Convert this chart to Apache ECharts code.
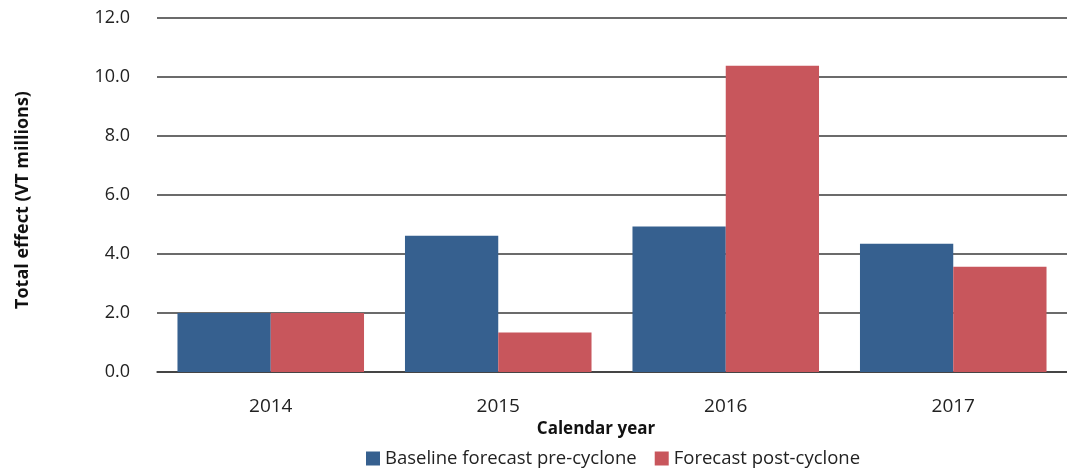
<!DOCTYPE html>
<html><head><meta charset="utf-8">
<script src="https://cdn.jsdelivr.net/npm/echarts@6/dist/echarts.min.js"></script>
<style>html,body{margin:0;padding:0;background:#fff}#c{width:1067px;height:469px}</style>
</head><body><div id="c"></div>
<script>
const categories = ['2014', '2015', '2016', '2017'];
const baseline = [2.0, 4.62, 4.93, 4.35];
const postCyclone = [2.0, 1.34, 10.38, 3.57];
const yTicks = [0, 2, 4, 6, 8, 10, 12];

const FONT = '"Open Sans", "Noto Sans", sans-serif';
const chart = echarts.init(document.getElementById('c'));
chart.setOption({
  animation: false,
  grid: { left: 157, right: 0, top: 18, bottom: 97 },
  legend: {
    top: 444, left: 361,
    itemWidth: 14, itemHeight: 14, itemGap: 18,
    icon: 'rect',
    textStyle: { fontFamily: FONT, fontSize: 18.5, color: '#222' },
    data: ['Baseline forecast pre-cyclone', 'Forecast post-cyclone']
  },
  xAxis: {
    type: 'category', data: categories,
    name: 'Calendar year', nameLocation: 'middle', nameGap: 41,
    nameTextStyle: { fontFamily: FONT, fontWeight: 'bold', fontSize: 17, color: '#111', padding: [0, 32, 0, 0] },
    axisLine: { lineStyle: { color: '#3a3a3a', width: 1.5 } },
    axisTick: { alignWithLabel: true, length: 8, lineStyle: { color: '#222' } },
    axisLabel: { fontFamily: FONT, fontSize: 19, color: '#222', margin: 25 }
  },
  yAxis: {
    type: 'value', min: 0, max: 12, interval: 2,
    name: 'Total effect (VT millions)', nameLocation: 'middle', nameGap: 125,
    nameTextStyle: { fontFamily: FONT, fontWeight: 'bold', fontSize: 18, color: '#111', padding: [0, 10, 0, 0] },
    axisLine: { show: false }, axisTick: { show: false },
    axisLabel: { fontFamily: FONT, fontSize: 18, color: '#222', margin: 27,
      formatter: v => yTicks.includes(v) ? v.toFixed(1) : '' },
    splitLine: { lineStyle: { color: '#3a3a3a', width: 1.5 } }
  },
  series: [
    { name: 'Baseline forecast pre-cyclone', type: 'bar', data: baseline,
      itemStyle: { color: '#36608f' }, barGap: '0%', barCategoryGap: '18%' },
    { name: 'Forecast post-cyclone', type: 'bar', data: postCyclone,
      itemStyle: { color: '#c8565c' }, barGap: '0%', barCategoryGap: '18%' }
  ]
});
</script></body></html>
